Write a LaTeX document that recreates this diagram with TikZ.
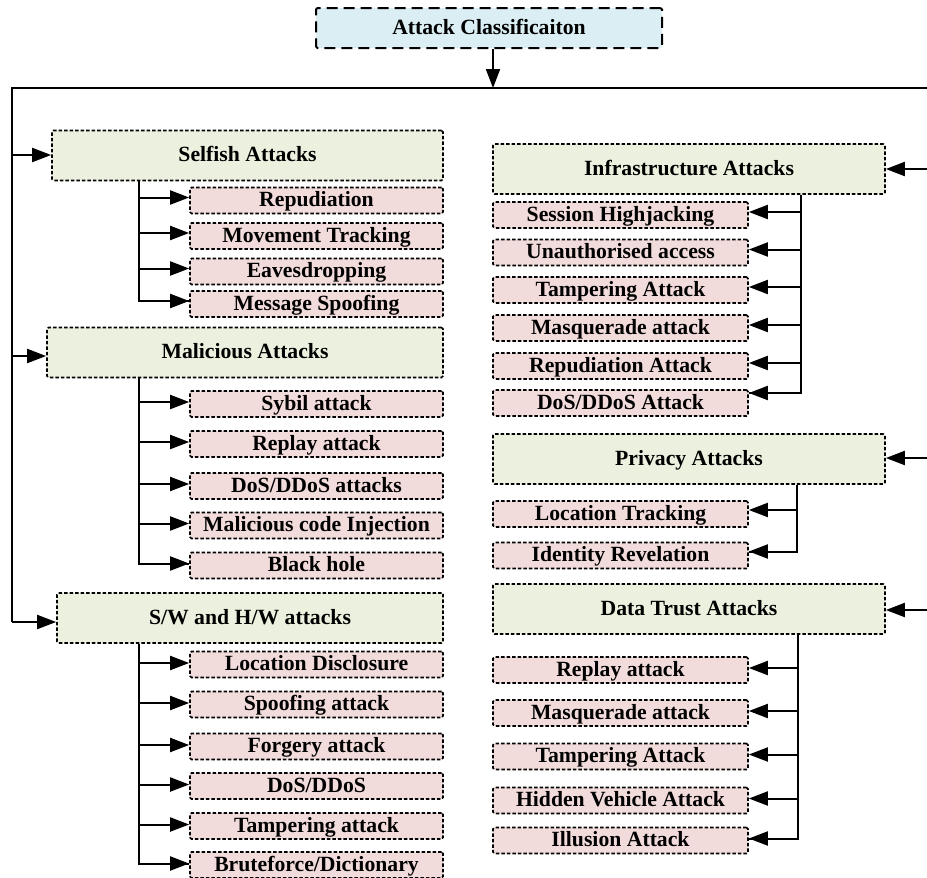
\documentclass[tikz,border=0pt]{standalone}
\usepackage{fontspec}
\setmainfont{Liberation Serif}
\usetikzlibrary{arrows.meta}
\definecolor{topfill}{HTML}{DAEEF3}
\definecolor{hdrfill}{HTML}{EBF1DE}
\definecolor{subfill}{HTML}{F2DCDB}
\tikzset{
  base/.style={draw=black, rounded corners=1.5pt, inner sep=0pt,
    text height=14pt, text depth=1.5pt,
    font=\fontsize{21.7}{24}\selectfont\bfseries, text=black},
  topbox/.style={base, fill=topfill, line width=2pt, dash pattern=on 11pt off 6pt,
    minimum width=346pt, minimum height=40pt},
  hdr/.style={base, fill=hdrfill, line width=1.7pt, dash pattern=on 3.5pt off 2pt,
    minimum height=50pt},
  subbox/.style={base, fill=subfill, line width=1.7pt, dash pattern=on 3.5pt off 2pt,
    minimum height=26pt},
  lsub/.style={subbox, minimum width=253pt},
  rsub/.style={subbox, minimum width=255pt},
  rhdr/.style={hdr, minimum width=392pt},
  conn/.style={line width=2pt},
  arr/.style={conn, -{Triangle[length=19pt,width=14pt]}},
}
\begin{document}
\begin{tikzpicture}[x=1pt,y=-1pt]
\useasboundingbox (0,0) rectangle (927,878);
% top
\node[topbox] (top) at (489,28) {Attack Classificaiton};
\coordinate (hub) at (493,88);
\coordinate (tl) at (12,88);
\coordinate (tr) at (928,88);
\coordinate (lbot) at (12,622);
\coordinate (rbot) at (928,610);
\draw[arr] (top.south -| hub) -- (hub);
\draw[conn] (lbot) -- (tl) -- (tr) -- (rbot);

% ---------- left column ----------
\node[hdr, minimum width=391pt] (self) at (247.5,155.5) {Selfish Attacks};
\node[lsub] (s1) at (316.5,200.5) {Repudiation};
\node[lsub] (s2) at (316.5,236) {Movement Tracking};
\node[lsub] (s3) at (316.5,271.5) {Eavesdropping};
\node[lsub] (s4) at (316.5,304) {Message Spoofing};

\node[hdr, minimum width=396pt] (mal) at (245,352.5) {Malicious Attacks};
\node[lsub] (m1) at (316.5,404) {Sybil attack};
\node[lsub] (m2) at (316.5,444) {Replay attack};
\node[lsub] (m3) at (316.5,486) {DoS/DDoS attacks};
\node[lsub] (m4) at (316.5,525.5) {Malicious code Injection};
\node[lsub] (m5) at (316.5,565.5) {Black hole};

\node[hdr, minimum width=386pt] (sw) at (250,618) {S/W and H/W attacks};
\node[lsub] (w1) at (316.5,664.5) {Location Disclosure};
\node[lsub] (w2) at (316.5,704.5) {Spoofing attack};
\node[lsub] (w3) at (316.5,746.5) {Forgery attack};
\node[lsub] (w4) at (316.5,786) {DoS/DDoS};
\node[lsub] (w5) at (316.5,826) {Tampering attack};
\node[lsub] (w6) at (316.5,865) {Bruteforce/Dictionary};

% trunk arrows left
\coordinate (ls) at (12,155);
\coordinate (lm) at (12,356);
\draw[arr] (ls) -- (ls -| self.west);
\draw[arr] (lm) -- (lm -| mal.west);
\draw[arr] (lbot) -- (lbot -| sw.west);

% branches left
\coordinate (bs) at (139,0);
\draw[conn] (self.south -| bs) |- ([yshift=3pt]s4.west);
\foreach \n in {s1,s2,s3,s4}{ \draw[arr] ([yshift=3pt]\n.west -| bs) -- ([yshift=3pt]\n.west); }
\draw[conn] (mal.south -| bs) |- ([yshift=2pt]m5.west);
\foreach \n in {m1,m2,m3,m4,m5}{ \draw[arr] ([yshift=2pt]\n.west -| bs) -- ([yshift=2pt]\n.west); }
\draw[conn] (sw.south -| bs) |- ([yshift=1.5pt]w6.west);
\foreach \n in {w1,w2,w3,w4,w5,w6}{ \draw[arr] ([yshift=1.5pt]\n.west -| bs) -- ([yshift=1.5pt]\n.west); }

% ---------- right column ----------
\node[rhdr] (inf) at (689,169) {Infrastructure Attacks};
\node[rsub] (i1) at (620.5,215) {Session Highjacking};
\node[rsub] (i2) at (620.5,252.5) {Unauthorised access};
\node[rsub] (i3) at (620.5,290) {Tampering Attack};
\node[rsub] (i4) at (620.5,328) {Masquerade attack};
\node[rsub] (i5) at (620.5,366) {Repudiation Attack};
\node[rsub] (i6) at (620.5,403) {DoS/DDoS Attack};

\node[rhdr] (priv) at (689,459) {Privacy Attacks};
\node[rsub] (p1) at (620.5,514) {Location Tracking};
\node[rsub] (p2) at (620.5,555.5) {Identity Revelation};

\node[rhdr] (dat) at (689,609) {Data Trust Attacks};
\node[rsub] (d1) at (620.5,670) {Replay attack};
\node[rsub] (d2) at (620.5,713) {Masquerade attack};
\node[rsub] (d3) at (620.5,756.5) {Tampering Attack};
\node[rsub] (d4) at (620.5,800.5) {Hidden Vehicle Attack};
\node[rsub] (d5) at (620.5,840.5) {Illusion Attack};

% trunk arrows right
\coordinate (ri) at (928,169);
\coordinate (rp) at (928,458);
\draw[arr] (ri) -- (ri -| inf.east);
\draw[arr] (rp) -- (rp -| priv.east);
\draw[arr] (rbot) -- (rbot -| dat.east);

% branches right
\coordinate (bi) at (801,0);
\coordinate (bp) at (797,0);
\coordinate (bd) at (798,0);
\draw[conn] (inf.south -| bi) |- ([yshift=10pt]i6.east);
\foreach \n in {i1,i2,i3,i4,i5}{ \draw[arr] ([yshift=3pt]\n.east -| bi) -- ([yshift=3pt]\n.east); }
\draw[arr] ([yshift=10pt]i6.east -| bi) -- ([yshift=10pt]i6.east);
\draw[conn] (priv.south -| bp) |- ([yshift=4pt]p2.east);
\foreach \n in {p1,p2}{ \draw[arr] ([yshift=4pt]\n.east -| bp) -- ([yshift=4pt]\n.east); }
\draw[conn] (dat.south -| bd) |- ([yshift=2pt]d5.east);
\foreach \n in {d1,d2,d3,d4,d5}{ \draw[arr] ([yshift=2pt]\n.east -| bd) -- ([yshift=2pt]\n.east); }
\end{tikzpicture}
\end{document}
